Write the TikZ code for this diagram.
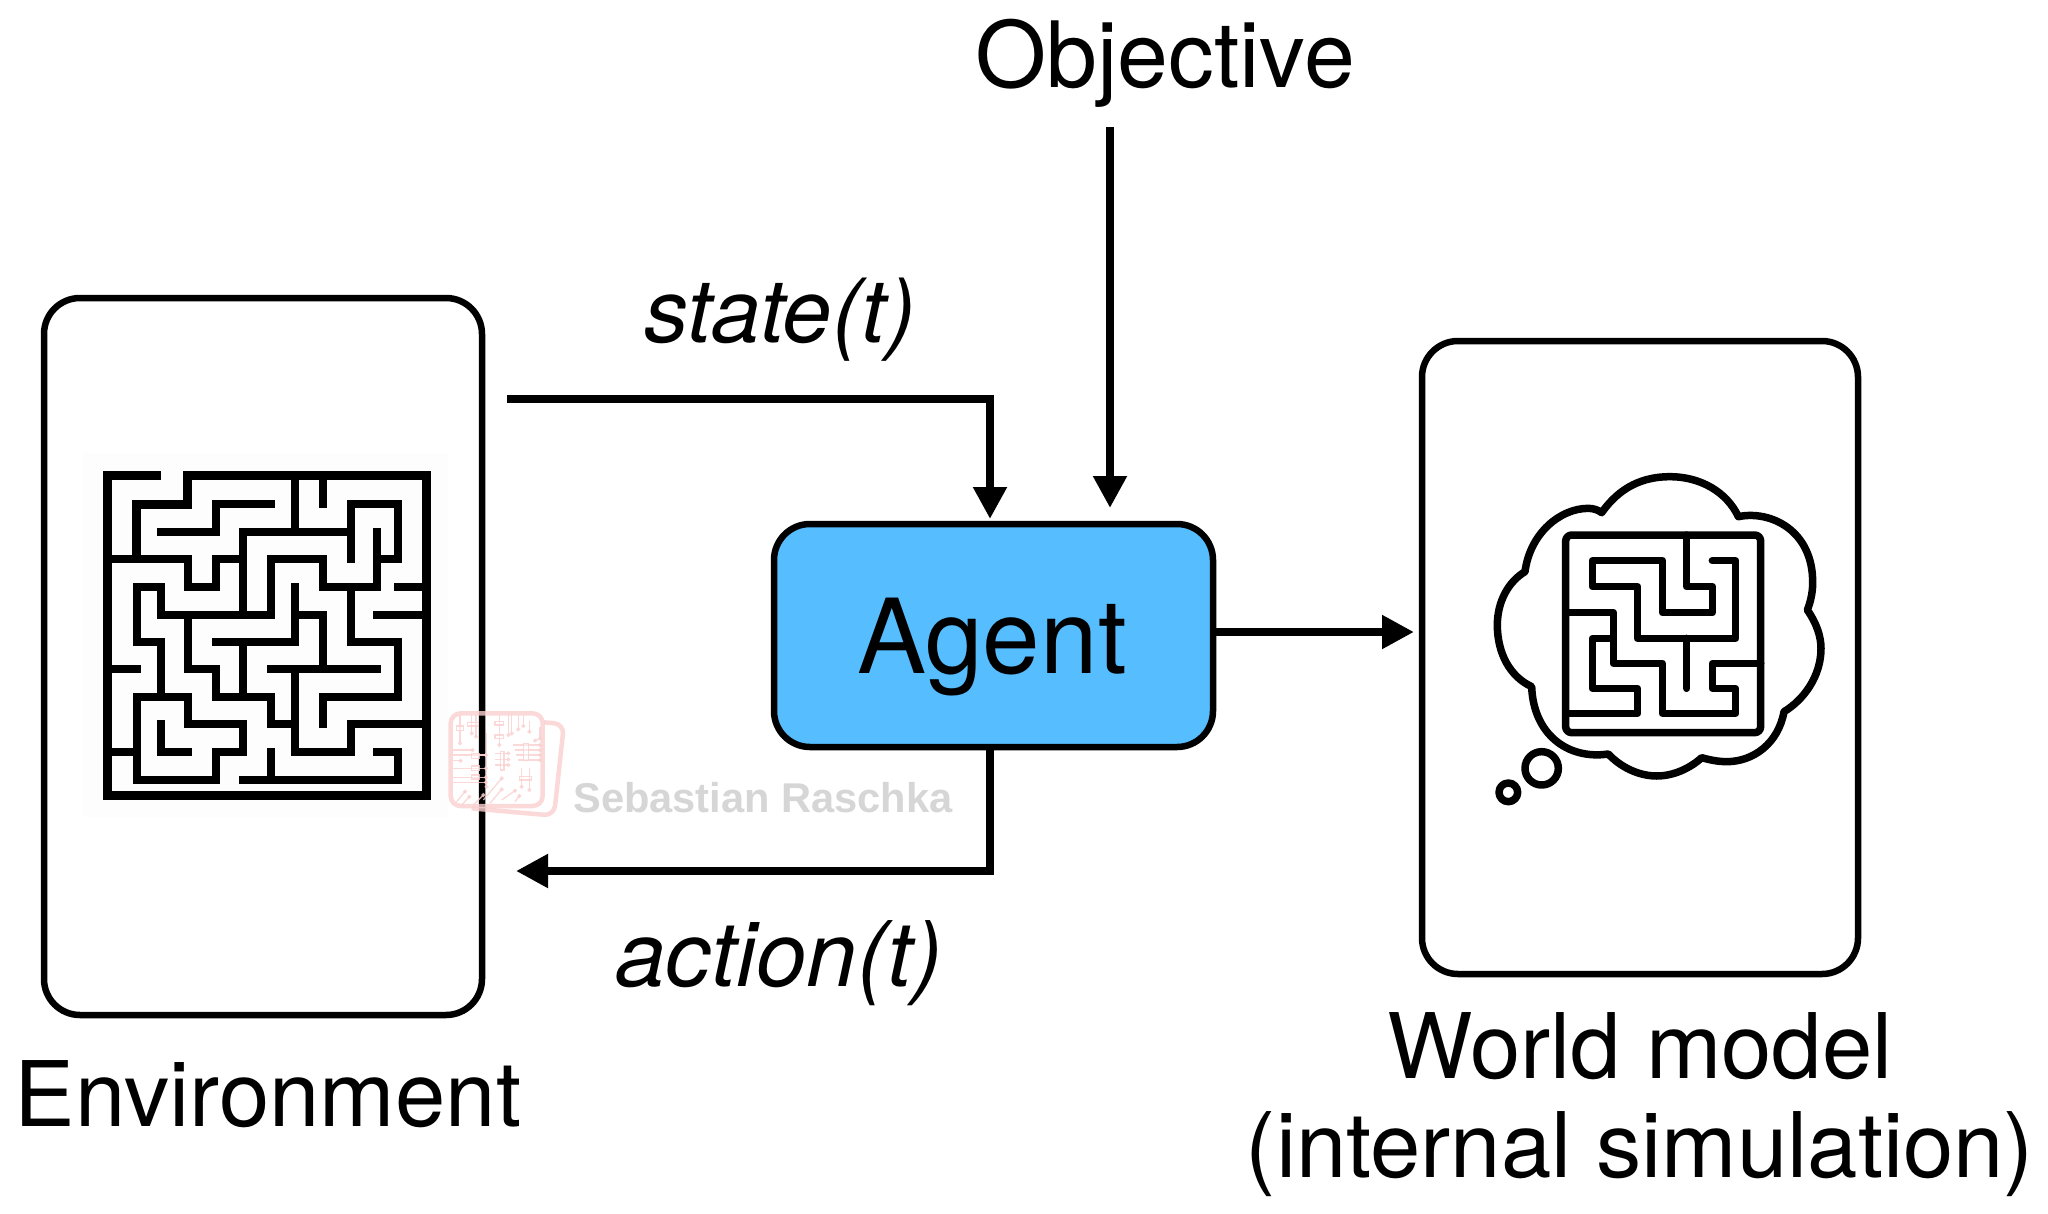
\documentclass[tikz,border=0pt]{standalone}
\usepackage{fontspec}
\setmainfont{TeX Gyre Heros}
\newfontfamily\wmfont{Liberation Sans}
\usetikzlibrary{arrows.meta}
\definecolor{agentblue}{HTML}{56BDFF}
\definecolor{wmpink}{HTML}{FAD0D0}
\definecolor{wmgray}{HTML}{D6D6D6}
\tikzset{
  panel/.style={draw=black,line width=6.5pt,rounded corners=36pt,fill=white},
  flow/.style={draw=black,line width=8pt,-{Triangle[width=32pt,length=32pt]},line join=miter},
  lab/.style={inner sep=0pt,anchor=base,font=\fontsize{90.5}{100}\selectfont},
  mazeline/.style={draw=black,line width=8pt,line cap=rect,line join=miter},
  dream/.style={draw=black,line width=7.5pt,line cap=round,line join=round},
  wmline/.style={draw=wmpink,line width=1.3pt},
}
\begin{document}
\begin{tikzpicture}[x=1pt,y=-1pt]
\path[use as bounding box,fill=white] (0,0) rectangle (2048,1213);
% panels
\node[panel,minimum width=438pt,minimum height=717pt,inner sep=0pt] (env) at (263,656.5) {};
\node[panel,minimum width=436pt,minimum height=633pt,inner sep=0pt] (world) at (1640,657.5) {};
\node[panel,fill=agentblue,minimum width=439pt,minimum height=223pt,inner sep=0pt] (agent) at (993.5,635.5)
  {};
\node[inner sep=0pt,anchor=base,font=\fontsize{103.5}{110}\selectfont] (agentlabel) at (992,673) {Agent};
% labels
\node[lab,font=\fontsize{91.5}{100}\selectfont] (objective) at (1165,87) {Objective};
\node[lab] (environment) at (268,1126) {Environment};
\node[lab] (worldlabel) at (1640,1078) {World model};
\node[lab] (simlabel) at (1640,1177) {(internal simulation)};
\node[lab,font=\fontsize{88.5}{100}\selectfont\itshape] (statelabel) at (780,342) {state(t)};
\node[lab,font=\fontsize{90.5}{100}\selectfont\itshape] (actionlabel) at (779,986) {action(t)};
% connectors
\coordinate (statestart) at (507,399);
\coordinate (stateend) at (990,519);
\coordinate (objstart) at (1110,127);
\coordinate (objend) at (1110,508);
\coordinate (worldin) at (1414,632);
\coordinate (agentout) at (1213,632);
\coordinate (actionstart) at (990,747);
\coordinate (actionend) at (516,871);
\draw[flow] (statestart) -| (stateend);
\draw[flow] (objstart) -- (objend);
\draw[flow] (agentout) -- (worldin);
\draw[flow] (actionstart) |- (actionend);
% environment maze
\begin{scope}[shift={(80,450)},x=1pt/3,y=-1pt/3]
\fill[black!0.6] (10,10) rectangle (1105,1100);
\foreach \i/\xv in {0/82,1/170,2/243,3/323,4/407,5/490,6/572,7/646,8/730,9/814,10/890,11/955,12/1040}{
  \foreach \j/\yv in {0/75,1/162,2/247,3/328,4/411,5/495,6/577,7/658,8/741,9/823,10/905,11/990,12/1035}{
    \coordinate (g\i-\j) at (\xv,\yv);
  }
}
\draw[mazeline,line cap=butt,line width=9pt] (g2-0) -- (g0-0) -- (g0-12) -- (g12-12) -- (g12-0) -- (g3-0) -- (g3-1) -- (g1-1) -- (g1-3);
\draw[mazeline] (g0-3) -- (g3-3) -- (g3-4) -- (g4-4) -- (g4-3) -- (g5-3);
\draw[mazeline] (g5-5) -- (g5-2) -- (g9-2);
\draw[mazeline] (g7-0) -- (g7-2);
\draw[mazeline] (g8-0) -- (g8-1);
\draw[mazeline] (g2-2) -- (g4-2) -- (g4-1) -- (g6-1);
\draw[mazeline] (g9-3) -- (g9-1) -- (g11-1) -- (g11-3) -- (g10-3);
\draw[mazeline] (g10-2) -- (g10-4) -- (g8-4) -- (g8-3) -- (g6-3) -- (g6-5) -- (g2-5) -- (g2-4) -- (g1-4) -- (g1-6) -- (g2-6) -- (g2-8);
\draw[mazeline] (g1-8) -- (g3-8) -- (g3-9) -- (g5-9) -- (g5-10) -- (g4-10) -- (g4-11) -- (g1-11) -- cycle;
\draw[mazeline] (g9-4) -- (g9-6) -- (g11-6) -- (g11-8) -- (g8-8) -- (g8-9);
\draw[mazeline] (g3-5) -- (g3-7) -- (g4-7) -- (g4-8) -- (g6-8) -- (g6-9) -- (g7-9);
\draw[mazeline] (g7-7) -- (g7-10) -- (g9-10) -- (g9-9) -- (g12-9);
\draw[mazeline] (g6-7) -- (g10-7);
\draw[mazeline] (g8-7) -- (g8-5) -- (g7-5) -- (g7-4);
\draw[mazeline] (g4-6) -- (g7-6) -- (g7-5);
\draw[mazeline] (g5-6) -- (g5-8);
\draw[mazeline] (g10-5) -- (g12-5);
\draw[mazeline] (g11-4) -- (g12-4);
\draw[mazeline] (g0-7) -- (g1-7);
\draw[mazeline] (g0-10) -- (g1-10);
\draw[mazeline] (g2-9) -- (g2-10) -- (g3-10);
\draw[mazeline] (g5-11) -- (g11-11) -- (g11-10) -- (g10-10);
\draw[mazeline] (g6-10) -- (g6-11);
\end{scope}
% thought cloud
\begin{scope}[shift={(1470,460)},x=1pt/3,y=-1pt/3]
\draw[dream] (395,158)
 .. controls (450,80) and (520,50) .. (600,50)
 .. controls (690,50) and (770,95) .. (805,170)
 .. controls (900,150) and (1030,210) .. (1028,370)
 .. controls (1028,400) and (1020,430) .. (1012,450)
 .. controls (1040,490) and (1053,530) .. (1053,565)
 .. controls (1053,650) and (1000,720) .. (942,755)
 .. controls (925,850) and (850,905) .. (770,905)
 .. controls (745,905) and (720,900) .. (695,893)
 .. controls (660,925) and (610,948) .. (560,948)
 .. controls (505,948) and (450,920) .. (415,882)
 .. controls (290,900) and (190,820) .. (185,680)
 .. controls (120,650) and (82,580) .. (82,495)
 .. controls (82,425) and (115,365) .. (165,335)
 .. controls (180,220) and (270,145) .. (355,145)
 .. controls (370,145) and (385,150) .. (395,158) -- cycle;
\draw[dream] (215,925) circle[radius=50];
\draw[dream] (115,997) circle[radius=28];
\draw[dream,rounded corners=6pt] (287,225) rectangle (872,818);
\draw[dream] (650,225) -- (650,380) -- (727,380) -- (727,458) -- (577,458) -- (577,302) -- (367,302) -- (367,380) -- (503,380) -- (503,535) -- (797,535) -- (797,302) -- (727,302);
\draw[dream] (287,458) -- (430,458) -- (430,610) -- (577,610) -- (577,760) -- (797,760) -- (797,685) -- (727,685) -- (727,610) -- (872,610);
\draw[dream] (430,535) -- (367,535) -- (367,685) -- (503,685) -- (503,760) -- (287,760);
\draw[dream] (650,535) -- (650,685);
\end{scope}
% watermark
\begin{scope}[shift={(440,700)},x=1pt/3,y=-1pt/3,opacity=.8]
\draw[draw=wmpink,line width=4.5pt,rounded corners=10pt] (312,67) -- (372,72) -- (342,347) -- (95,325);
\draw[draw=wmpink,line width=4.5pt,rounded corners=10pt] (32,40) rectangle (308,318);
\foreach \ax/\ay/\bx/\by in {
  60/45/60/130, 95/45/95/100, 108/45/108/110, 178/45/178/135, 205/45/205/105, 215/45/215/100,
  235/45/235/88, 250/45/250/78, 268/62/268/95, 300/80/300/115, 300/115/285/122,
  40/150/98/150, 40/165/138/165, 115/165/138/165, 40/182/62/182, 40/205/138/205, 40/232/138/232, 40/247/138/247,
  140/100/140/260, 165/160/205/160, 165/178/205/178, 165/195/205/195,
  218/135/300/135, 225/150/300/150, 228/165/300/165, 235/180/300/180,
  245/205/245/260, 268/205/268/270,
  50/305/75/275, 65/315/88/290, 100/315/130/285, 130/300/185/235, 150/310/185/268, 185/300/225/272, 225/305/238/288
}{
  \draw[wmline] (\ax,\ay) -- (\bx,\by);
  \draw[wmline] (\bx,\by) circle[radius=4];
}
\foreach \ax/\ay/\bx/\by in {50/78/70/92, 82/68/115/78, 165/65/190/75, 165/105/190/115, 95/160/118/175, 95/198/118/212, 95/225/118/237, 182/155/192/210, 250/130/265/182, 238/230/275/240}{
  \draw[wmline,fill=white,fill opacity=.4] (\ax,\ay) rectangle (\bx,\by);
}
\end{scope}
\node[inner sep=0pt,anchor=base,font=\wmfont\bfseries\fontsize{41.6}{50}\selectfont,text=wmgray] (watermark) at (763,812) {Sebastian Raschka};
\end{tikzpicture}
\end{document}
